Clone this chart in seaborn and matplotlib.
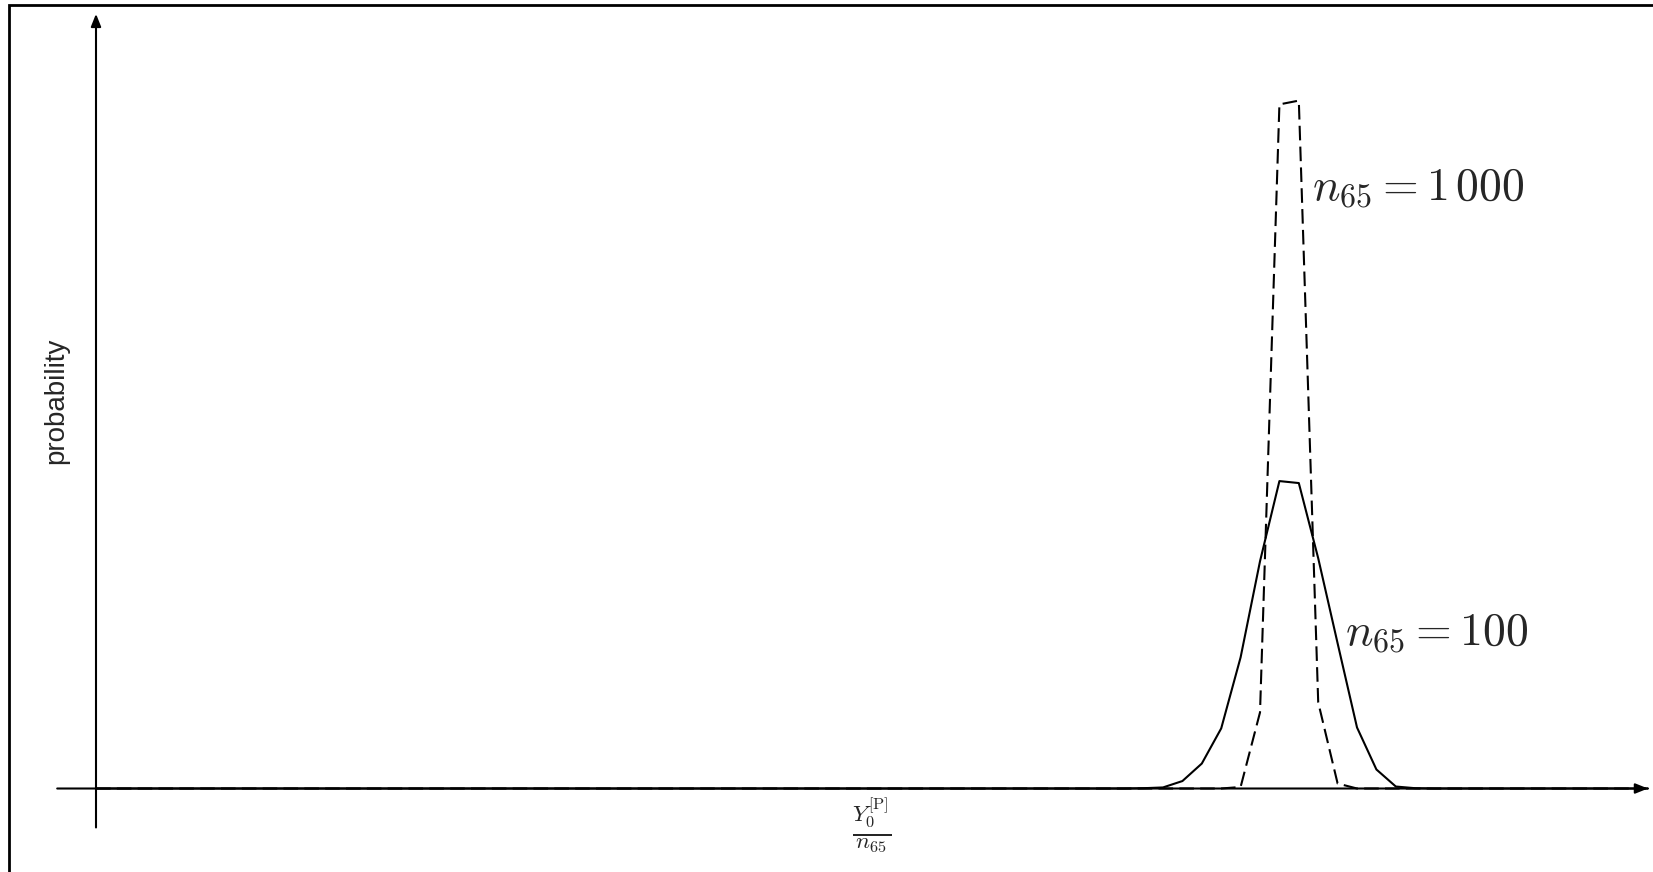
import matplotlib
matplotlib.use("Agg")
import matplotlib.pyplot as plt
from matplotlib.patches import Rectangle
import seaborn as sns

# Share Y/n on a 0.01 grid and its probability (in percent)
x_n100 = [0.00, 0.53, 0.54, 0.55, 0.56, 0.57, 0.58, 0.59, 0.60, 0.61,
          0.62, 0.63, 0.64, 0.65, 0.66, 0.67, 0.68, 0.69, 0.80]
p_n100 = [0.0, 0.0, 0.02, 0.07, 0.49, 1.64, 3.95, 8.62, 14.93, 20.2,
          20.07, 15.13, 9.54, 4.01, 1.25, 0.13, 0.02, 0.0, 0.0]

x_n1000 = [0.00, 0.58, 0.59, 0.60, 0.61, 0.62, 0.63, 0.64, 0.65, 0.80]
p_n1000 = [0.0, 0.0, 0.1, 5.0, 44.95, 45.2, 5.66, 0.33, 0.0, 0.0]

label_n100 = r"$n_{65} = 100$"
label_n1000 = r"$n_{65} = 1\,000$"
x_label = r"$\frac{\mathit{Y}_0^{[\mathrm{P}]}}{n_{65}}$"
y_label = "probability"

# axis arrows (data units)
x_axis = (-0.02, 0.80)
y_axis = (-2.56, 50.9)

sns.set_theme(style="white")
plt.rcParams["mathtext.fontset"] = "cm"
plt.rcParams["font.family"] = ["Liberation Sans", "DejaVu Sans"]

fig = plt.figure(figsize=(16.53, 8.72), dpi=100)
ax = fig.add_axes([0, 0, 1, 1])

lw = 1.5
arrow = dict(arrowstyle="-|>,head_length=0.75,head_width=0.3", lw=lw,
             color="black", shrinkA=0, shrinkB=0, mutation_scale=10)
ax.annotate("", xy=(x_axis[1], 0), xytext=(x_axis[0], 0), arrowprops=arrow)
ax.annotate("", xy=(0, y_axis[1]), xytext=(0, y_axis[0]), arrowprops=arrow)

sns.lineplot(x=x_n100, y=p_n100, ax=ax, color="black", linewidth=lw)
sns.lineplot(x=x_n1000, y=p_n1000, ax=ax, color="black", linewidth=lw,
             linestyle=(0, (7, 3)))

ax.text(0.6268, 38.67, label_n1000, fontsize=33, ha="left", va="baseline")
ax.text(0.6438, 9.43, label_n100, fontsize=33, ha="left", va="baseline")
ax.text(0.4, -2.45, x_label, fontsize=24, ha="center", va="center")
ax.text(-0.0206, 25.5, y_label, rotation=90, fontsize=20,
        ha="center", va="center")

ax.set_xlim(-0.049485, 0.80257)
ax.set_ylim(-5.486, 51.81)
ax.axis("off")

# outer frame, open towards the right and bottom edges
fig.patches.append(Rectangle((9.3 / 1653, -0.2), 1.5, 0.2 + 1 - 5 / 872,
                             transform=fig.transFigure, fill=False,
                             edgecolor="black", linewidth=2.0))

fig.savefig("out.png", dpi=100, facecolor="white")
